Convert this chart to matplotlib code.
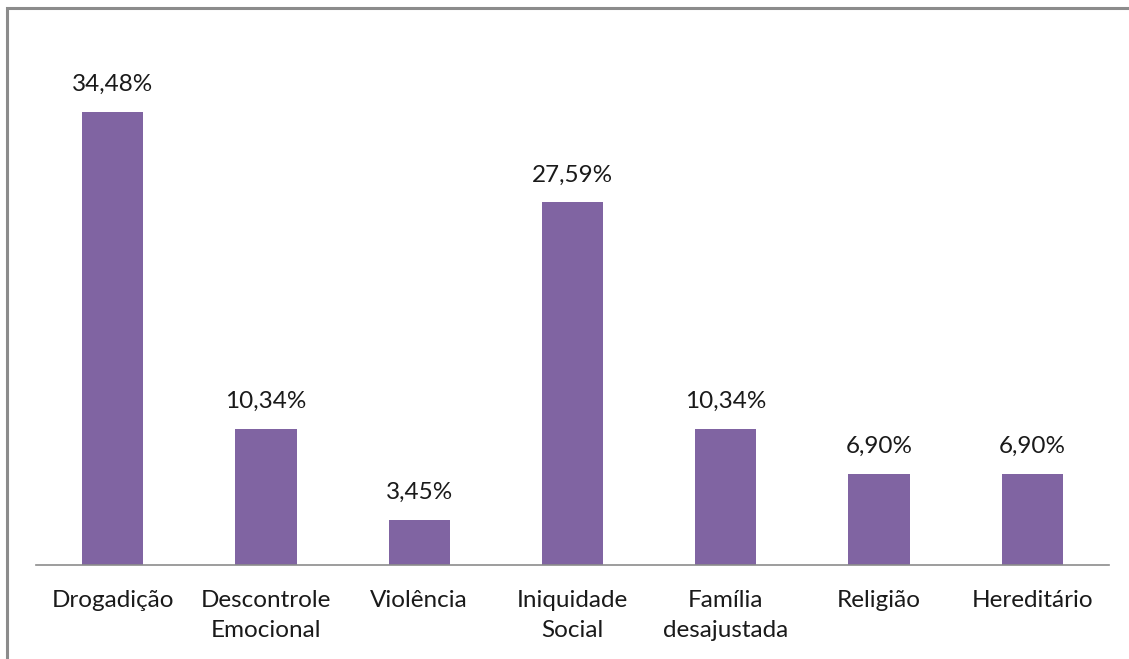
import matplotlib
matplotlib.use("Agg")
import matplotlib.pyplot as plt
from matplotlib.patches import Rectangle

categories = ["Drogadição", "Descontrole\nEmocional", "Violência", "Iniquidade\nSocial",
              "Família\ndesajustada", "Religião", "Hereditário"]
values = [34.48, 10.34, 3.45, 27.59, 10.34, 6.90, 6.90]
labels = ["34,48%", "10,34%", "3,45%", "27,59%", "10,34%", "6,90%", "6,90%"]

plt.rcParams['font.family'] = ['Lato', 'DejaVu Sans']

W, H = 1129, 659
fig = plt.figure(figsize=(W / 100, H / 100), dpi=100)

# outer frame (only top and left visible in the original)
fig.patches.append(Rectangle((7 / W, -0.1), 1.2, 1 - 8 / H + 0.1, transform=fig.transFigure,
                             fill=False, edgecolor="#8c8c8c", linewidth=2.2))

ax = fig.add_axes([36 / W, 94 / H, (1109 - 36) / W, (565 - 39.4) / H])
x = range(len(values))
ax.bar(x, values, width=0.4, color="#8064A2")
ax.set_xlim(-0.5, len(values) - 0.5)
ax.set_ylim(0, 40)

for xi, v, lab in zip(x, values, labels):
    ax.annotate(lab, (xi, v), xytext=(0, 17), textcoords="offset pixels",
                ha="center", va="bottom", fontsize=17.5, color="#1a1a1a")

ax.set_xticks(list(x))
ax.set_xticklabels(categories, fontsize=17.5, color="#1a1a1a", linespacing=1.55)
ax.tick_params(axis="x", length=0, pad=18)
ax.tick_params(axis="y", left=False, labelleft=False)
for s in ["top", "right", "left"]:
    ax.spines[s].set_visible(False)
ax.spines["bottom"].set_color("#8c8c8c")
ax.spines["bottom"].set_linewidth(1.2)

fig.savefig("out.png", dpi=100)
